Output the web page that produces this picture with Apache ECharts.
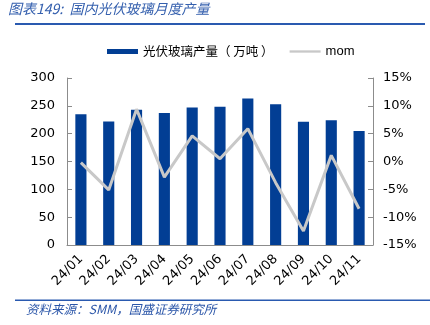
<!DOCTYPE html>
<html><head><meta charset="utf-8">
<script src="https://cdn.jsdelivr.net/npm/echarts@6/dist/echarts.min.js"></script>
<style>html,body{margin:0;padding:0;background:#fff}#c{width:430px;height:325px}</style>
</head><body><div id="c"></div>
<script>
var categories = ['24/01','24/02','24/03','24/04','24/05','24/06','24/07','24/08','24/09','24/10','24/11'];
var production = [235, 222, 243, 237, 247, 248.5, 263, 253, 221.5, 224, 205];
var mom = [-0.2, -5.1, 9.4, -2.8, 4.6, 0.5, 5.9, -3.8, -12.5, 1.1, -8.5];
var leftTicks = [0, 50, 100, 150, 200, 250, 300];
var rightTicks = [-15, -10, -5, 0, 5, 10, 15];

var chart = echarts.init(document.getElementById('c'));
var axisColor = '#8c8c8c';
var cjk = '"Noto Sans CJK SC", sans-serif';
chart.setOption({
  animation: false,
  grid: {left: 67, right: 57, top: 78, bottom: 80},
  legend: {
    top: 40, left: 102,
    itemGap: 16,
    textStyle: {fontSize: 12.5, color: '#000', fontFamily: cjk},
    data: [
      {name: '光伏玻璃产量（ 万吨 ）', icon: 'rect', itemStyle: {color: '#023E94'}},
      {name: 'mom', icon: 'path://M0,0L40,0L40,3L0,3Z', textStyle: {fontFamily: 'Arial, "Liberation Sans", sans-serif', fontSize: 13}}
    ],
    itemWidth: 31, itemHeight: 5
  },
  graphic: [
    {type: 'text', left: 8, top: 2, style: {text: '图表149:  国内光伏玻璃月度产量', fill: '#3560ae', font: 'italic 14px "Noto Sans CJK SC", sans-serif'}},
    {type: 'rect', shape: {x: 15, y: 23, width: 410, height: 2}, style: {fill: '#2a5ab0'}},
    {type: 'rect', shape: {x: 15, y: 299.5, width: 415, height: 1.5}, style: {fill: '#2a5ab0'}},
    {type: 'text', left: 26, top: 303, style: {text: '资料来源：SMM，国盛证券研究所', fill: '#2a55a8', font: 'italic 12.5px "Noto Sans CJK SC", sans-serif'}}
  ],
  xAxis: {
    type: 'category', data: categories,
    axisLine: {lineStyle: {color: axisColor}},
    axisTick: {inside: true, alignWithLabel: false, lineStyle: {color: axisColor}},
    axisLabel: {rotate: 45, fontSize: 13, color: '#000', fontFamily: '"DejaVu Sans", sans-serif', margin: 12}
  },
  yAxis: [
    {type: 'value', min: 0, max: 300, interval: 50,
     axisLine: {show: true, lineStyle: {color: axisColor}},
     axisTick: {show: true, inside: true, lineStyle: {color: axisColor}},
     splitLine: {show: false},
     axisLabel: {fontSize: 13, color: '#000', fontFamily: '"DejaVu Sans", sans-serif', margin: 12}},
    {type: 'value', min: -15, max: 15, interval: 5,
     axisLine: {show: true, lineStyle: {color: axisColor}},
     axisTick: {show: true, inside: true, lineStyle: {color: axisColor}},
     splitLine: {show: false},
     axisLabel: {fontSize: 13, color: '#000', fontFamily: '"DejaVu Sans", sans-serif', margin: 10, formatter: '{value}%'}}
  ],
  series: [
    {name: '光伏玻璃产量（ 万吨 ）', type: 'bar', data: production, barWidth: '40%',
     itemStyle: {color: '#023E94'}},
    {name: 'mom', type: 'line', yAxisIndex: 1, data: mom, symbol: 'none',
     lineStyle: {color: '#c8c8c8', width: 3}, itemStyle: {color: '#c8c8c8'}}
  ]
});
</script></body></html>
